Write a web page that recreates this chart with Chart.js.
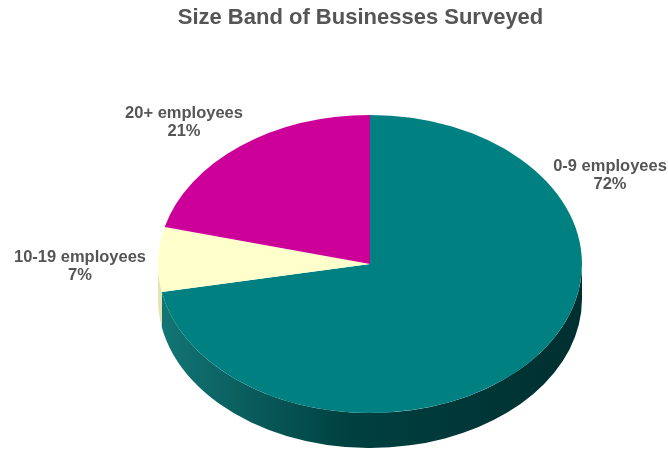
<!DOCTYPE html>
<html>
<head>
<meta charset="utf-8">
<script src="https://cdn.jsdelivr.net/npm/chart.js@4.4.1/dist/chart.umd.min.js"></script>
<style>
  html, body { margin: 0; padding: 0; background: #fff; }
  canvas { display: block; }
</style>
</head>
<body>
<canvas id="sizeBand" width="668" height="451"></canvas>
<script>
// Survey data
const categories = ["0-9 employees", "10-19 employees", "20+ employees"];
const shares = [72, 7, 21];

// Slice colours: top face, then the shaded outer wall (left -> right)
const topColours = ["#008080", "#FFFFCC", "#CC0099"];
const wallColours = [
  ["#137676", "#004040", "#002f30"],
  ["#e6e3b0", "#d4d19a", "#c4c088"],
  ["#a0007a", "#700055", "#55003f"],
];

const textGrey = "#555555";
const labelFont = 'bold 16.5px "Liberation Sans", Arial, sans-serif';

/* -------------------------------------------------
   Tilted pie: squashes the library's arcs into an
   ellipse and extrudes the front rim downwards
   ------------------------------------------------- */
const tiltedPie = {
  id: "tiltedPie",
  beforeDatasetsDraw(chart, args, opts) {
    const ctx = chart.ctx;
    const arcs = chart.getDatasetMeta(0).data;
    const { cx, cy, rx, ry, depth } = opts;
    const TAU = Math.PI * 2;

    // outer wall of each slice, only the part facing the viewer
    arcs.forEach((arc, i) => {
      const a0 = arc.startAngle;
      const a1 = arc.endAngle;
      for (let k = -1; k <= 1; k++) {
        const s = Math.max(a0, TAU * k);
        const e = Math.min(a1, TAU * k + Math.PI);
        if (e <= s) continue;
        const grad = ctx.createLinearGradient(cx - rx, 0, cx + rx, 0);
        const stops = wallColours[i];
        grad.addColorStop(0, stops[0]);
        grad.addColorStop(0.45, stops[1]);
        grad.addColorStop(1, stops[2]);
        ctx.beginPath();
        ctx.ellipse(cx, cy, rx, ry, 0, s, e);
        ctx.ellipse(cx, cy + depth, rx, ry, 0, e, s, true);
        ctx.closePath();
        ctx.fillStyle = grad;
        ctx.fill();
      }
    });

    // map the flat pie onto the ellipse for the top faces
    const { x, y, outerRadius } = arcs[0];
    ctx.save();
    ctx.translate(cx, cy);
    ctx.scale(rx / outerRadius, ry / outerRadius);
    ctx.translate(-x, -y);
  },
  afterDatasetsDraw(chart) {
    chart.ctx.restore();
  },
  afterDraw(chart, args, opts) {
    const ctx = chart.ctx;
    ctx.save();
    ctx.font = labelFont;
    ctx.fillStyle = textGrey;
    ctx.textAlign = "center";
    ctx.textBaseline = "alphabetic";
    opts.labelAnchors.forEach(([lx, ly], i) => {
      ctx.fillText(categories[i], lx, ly);
      ctx.fillText(shares[i] + "%", lx, ly + opts.lineGap);
    });
    ctx.restore();
  },
};

new Chart(document.getElementById("sizeBand"), {
  type: "pie",
  data: {
    labels: categories,
    datasets: [
      {
        data: shares,
        backgroundColor: topColours,
        borderWidth: 0,
        clip: false,
      },
    ],
  },
  options: {
    responsive: false,
    animation: false,
    events: [],
    layout: { padding: { left: 53 } },
    plugins: {
      legend: { display: false },
      tooltip: { enabled: false },
      title: {
        display: true,
        text: "Size Band of Businesses Surveyed",
        color: textGrey,
        font: { family: '"Liberation Sans", Arial, sans-serif', size: 22, weight: "bold" },
        padding: { top: 5, bottom: 10 },
      },
      tiltedPie: {
        cx: 370,
        cy: 264,
        rx: 212,
        ry: 149,
        depth: 35,
        lineGap: 18,
        labelAnchors: [
          [610, 171],
          [80, 262],
          [184, 118],
        ],
      },
    },
  },
  plugins: [tiltedPie],
});
</script>
</body>
</html>
